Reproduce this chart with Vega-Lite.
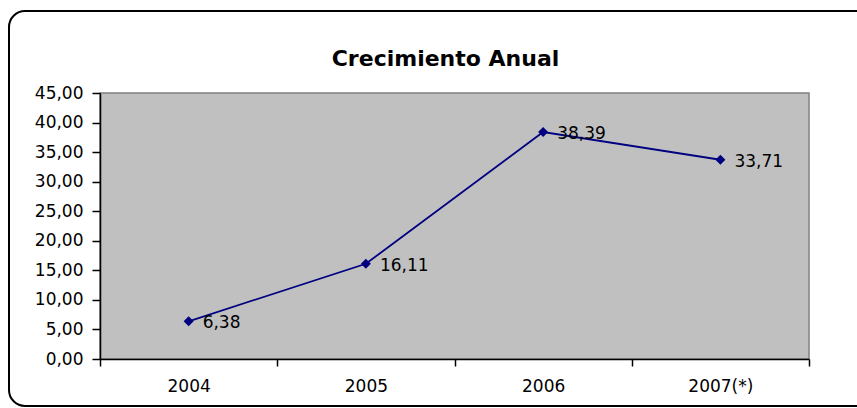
{
  "$schema": "https://vega.github.io/schema/vega-lite/v6.json",
  "width": 709,
  "height": 266,
  "autosize": "none",
  "padding": {"left": 100, "top": 93, "right": 48, "bottom": 49},
  "background": "white",
  "config": {
    "locale": {"number": {"decimal": ",", "thousands": ".", "grouping": [3], "currency": ["", " €"]}},
    "view": {"fill": "#C0C0C0", "stroke": "#808080", "strokeWidth": 1.5},
    "font": "DejaVu Sans",
    "axis": {
      "domainColor": "black",
      "domainWidth": 1.5,
      "tickColor": "black",
      "tickWidth": 1.5,
      "labelColor": "black",
      "labelFont": "DejaVu Sans",
      "labelFontSize": 17,
      "grid": false,
      "title": null
    }
  },
  "title": {
    "text": "Crecimiento Anual",
    "font": "DejaVu Sans",
    "fontSize": 22,
    "fontWeight": "bold",
    "color": "black",
    "anchor": "middle",
    "frame": "group",
    "dx": -9,
    "offset": -78,
    "baseline": "alphabetic"
  },
  "data": {
    "values": [
      {"anio": "2004", "valor": 6.38},
      {"anio": "2005", "valor": 16.11},
      {"anio": "2006", "valor": 38.39},
      {"anio": "2007(*)", "valor": 33.71}
    ]
  },
  "encoding": {
    "x": {
      "field": "anio",
      "type": "nominal",
      "sort": null,
      "bandPosition": 0.5,
      "scale": {"type": "band", "paddingInner": 0, "paddingOuter": 0},
      "axis": {"labelAngle": 0, "tickBand": "extent", "tickSize": 7, "labelPadding": 12}
    },
    "y": {
      "field": "valor",
      "type": "quantitative",
      "scale": {"domain": [0, 45], "nice": false, "zero": true},
      "axis": {"values": [0, 5, 10, 15, 20, 25, 30, 35, 40, 45], "format": ".2f", "tickSize": 8, "labelPadding": 9}
    }
  },
  "layer": [
    {
      "data": {"values": [{"marco": "grafico"}]},
      "mark": {"type": "rect", "filled": false, "stroke": "black", "strokeWidth": 2, "cornerRadius": 16},
      "encoding": {
        "x": {"value": -91},
        "x2": {"value": 775},
        "y": {"value": -82},
        "y2": {"value": 313}
      }
    },
    {
      "mark": {"type": "line", "color": "#000080", "strokeWidth": 1.8}
    },
    {
      "mark": {"type": "point", "shape": "diamond", "filled": true, "size": 100, "color": "#000080", "opacity": 1}
    },
    {
      "mark": {"type": "text", "align": "left", "baseline": "middle", "dx": 14, "dy": 2, "fontSize": 17, "color": "black"},
      "encoding": {"text": {"field": "valor", "type": "quantitative", "format": ".2f"}}
    }
  ]
}
